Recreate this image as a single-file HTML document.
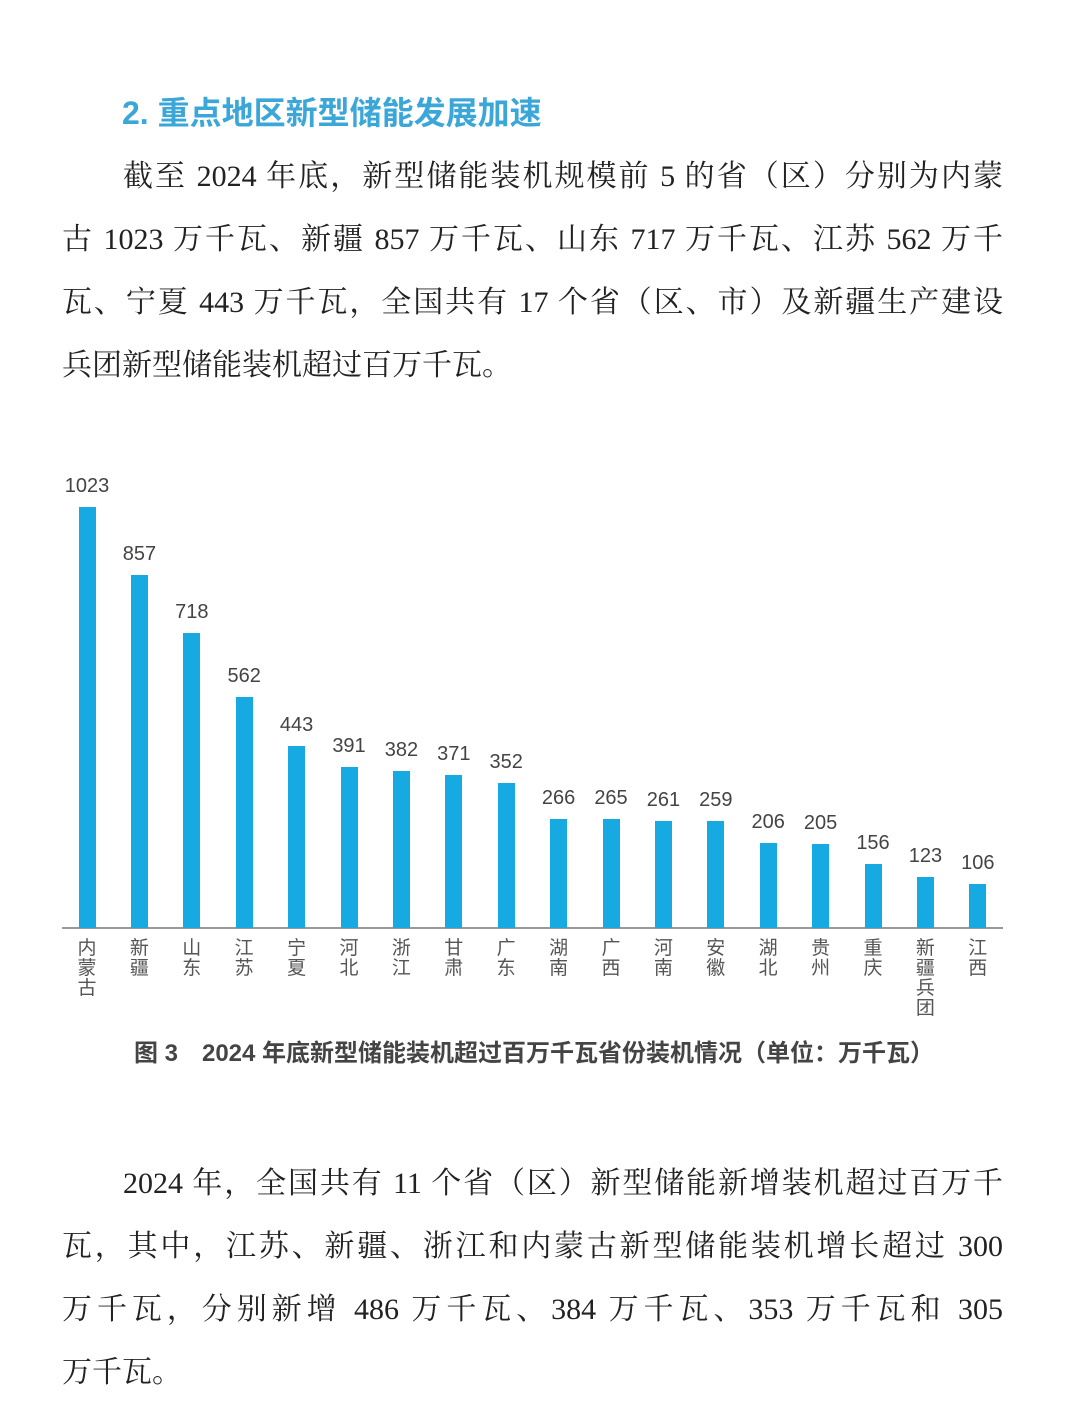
<!DOCTYPE html>
<html><head><meta charset="utf-8"><style>
body{margin:0;width:1080px;height:1428px;background:#fff;position:relative;overflow:hidden}
.t{position:absolute;font-family:"Liberation Serif","Noto Serif CJK SC",serif;font-size:30px;color:#222;white-space:nowrap;line-height:40px}
.j{width:941px;left:62px;text-align:justify;text-align-last:justify}
.h{position:absolute;left:122px;top:92px;font-family:"Liberation Sans","Noto Sans CJK SC",sans-serif;font-weight:bold;font-size:32px;color:#3ba7d9;line-height:42px}
.b{position:absolute;width:17px;background:#17a9e1}
.v{position:absolute;width:60px;text-align:center;font-family:"Liberation Sans","Noto Sans CJK SC",sans-serif;font-size:20px;color:#444;line-height:22px}
.c{position:absolute;width:24px;text-align:center;font-family:"Noto Sans CJK SC",sans-serif;font-size:19px;color:#555;line-height:20px;top:937px}
.cap{position:absolute;left:0;width:1068px;top:1037px;text-align:center;font-family:"Liberation Sans","Noto Sans CJK SC",sans-serif;font-weight:bold;font-size:24px;color:#444;line-height:34px;white-space:nowrap}
</style></head><body>
<div class="h">2. 重点地区新型储能发展加速</div>
<div class="t j" style="top:157px;left:123px;width:880px">截至 2024 年底，新型储能装机规模前 5 的省（区）分别为内蒙</div>
<div class="t j" style="top:220px">古 1023 万千瓦、新疆 857 万千瓦、山东 717 万千瓦、江苏 562 万千</div>
<div class="t j" style="top:283px">瓦、宁夏 443 万千瓦，全国共有 17 个省（区、市）及新疆生产建设</div>
<div class="t" style="top:346px;left:62px">兵团新型储能装机超过百万千瓦。</div>
<div style="position:absolute;left:62px;top:927px;width:941px;height:2px;background:#999"></div>
<div id="ch"></div>
<div class="cap">图 3　2024 年底新型储能装机超过百万千瓦省份装机情况（单位：万千瓦）</div>
<div class="t j" style="top:1164px;left:123px;width:880px">2024 年，全国共有 11 个省（区）新型储能新增装机超过百万千</div>
<div class="t j" style="top:1227px">瓦，其中，江苏、新疆、浙江和内蒙古新型储能装机增长超过 300</div>
<div class="t j" style="top:1290px">万千瓦，分别新增 486 万千瓦、384 万千瓦、353 万千瓦和 305</div>
<div class="t" style="top:1353px;left:62px">万千瓦。</div>
<script>
var d=[["内蒙古",1023],["新疆",857],["山东",718],["江苏",562],["宁夏",443],["河北",391],["浙江",382],["甘肃",371],["广东",352],["湖南",266],["广西",265],["河南",261],["安徽",259],["湖北",206],["贵州",205],["重庆",156],["新疆兵团",123],["江西",106]];
var h="";
d.forEach(function(e,i){var cx=87+i*52.4;var hh=e[1]*0.4115;
h+='<div class="b" style="left:'+(cx-8.5)+'px;top:'+(928-hh)+'px;height:'+hh+'px"></div>';
h+='<div class="v" style="left:'+(cx-30)+'px;top:'+(928-hh-32)+'px">'+e[1]+'</div>';
h+='<div class="c" style="left:'+(cx-12)+'px">'+e[0].split('').join('<br>')+'</div>';});
document.getElementById('ch').innerHTML=h;
</script>
</body></html>
